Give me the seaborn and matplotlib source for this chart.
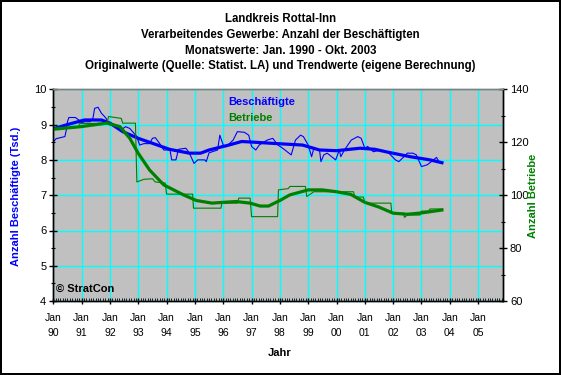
import numpy as np
import pandas as pd
import seaborn as sns
from matplotlib import pyplot as plt
from matplotlib.ticker import MultipleLocator, FixedLocator

# Beschaeftigte (Tsd.), Originalwerte (decimal year, value)
emp_year = [1990.0, 1990.1, 1990.41, 1990.47, 1990.5, 1990.55, 1990.78, 1990.9, 1991.0, 1991.1,
            1991.3, 1991.4, 1991.46, 1991.58, 1991.7, 1991.82, 1991.9, 1992.0, 1992.1, 1992.3,
            1992.4, 1992.55, 1992.7, 1992.8, 1992.95, 1993.05, 1993.2, 1993.4, 1993.5, 1993.6,
            1993.75, 1993.9, 1994.12, 1994.18, 1994.33, 1994.42, 1994.68, 1994.8, 1994.97, 1995.1,
            1995.35, 1995.4, 1995.5, 1995.8, 1995.88, 1996.0, 1996.1, 1996.35, 1996.5, 1996.75,
            1996.9, 1997.0, 1997.15, 1997.27, 1997.55, 1997.75, 1997.93, 1998.1, 1998.4, 1998.55,
            1998.73, 1998.83, 1999.0, 1999.12, 1999.2, 1999.4, 1999.45, 1999.55, 1999.67, 1999.97,
            2000.1, 2000.15, 2000.28, 2000.52, 2000.75, 2000.87, 2001.0, 2001.1, 2001.3, 2001.55,
            2001.85, 2002.08, 2002.2, 2002.38, 2002.5, 2002.7, 2002.82, 2003.0, 2003.2, 2003.35,
            2003.53, 2003.62, 2003.75]
emp_orig = [8.51, 8.6, 8.66, 8.89, 9.08, 9.2, 9.2, 9.13, 9.04, 9.08,
            9.08, 9.18, 9.46, 9.49, 9.32, 9.22, 9.13, 8.99, 9.03, 8.9,
            8.85, 8.94, 8.89, 8.8, 8.66, 8.42, 8.46, 8.46, 8.61, 8.63,
            8.47, 8.28, 8.28, 8.0, 8.0, 8.3, 8.33, 8.2, 7.9, 8.0,
            8.0, 7.95, 8.2, 8.28, 8.7, 8.42, 8.37, 8.56, 8.8, 8.78,
            8.7, 8.38, 8.28, 8.42, 8.56, 8.61, 8.42, 8.33, 8.14, 8.56,
            8.7, 8.66, 8.42, 8.09, 8.33, 8.28, 7.95, 8.14, 8.19, 8.0,
            8.28, 8.09, 8.28, 8.56, 8.66, 8.61, 8.33, 8.38, 8.23, 8.28,
            8.19, 8.0, 7.95, 8.09, 8.19, 8.19, 8.14, 7.81, 7.86, 7.95,
            8.07, 7.95, 7.92]

# Beschaeftigte, Trendwerte
emp_trend_year = [1990.0, 1990.5, 1991.1, 1991.7, 1992.0, 1992.45, 1993.0, 1993.5, 1994.1, 1994.8,
                  1995.2, 1995.5, 1996.2, 1996.65, 1997.1, 1997.7, 1998.35, 1998.8, 1999.4, 2000.0,
                  2000.83, 2001.35, 2001.8, 2002.6, 2003.3, 2003.72]
emp_trend = [8.88, 9.0, 9.13, 9.13, 9.04, 8.8, 8.61, 8.47, 8.3, 8.19,
             8.19, 8.28, 8.42, 8.52, 8.5, 8.47, 8.44, 8.42, 8.28, 8.26,
             8.33, 8.30, 8.22, 8.09, 8.0, 7.92]

# Betriebe, Originalwerte (stepwise)
firm_year = [1990.0, 1990.9, 1990.92, 1991.9, 1991.95, 1992.4, 1992.45, 1992.9, 1992.95, 1993.2,
             1993.5, 1993.6, 1993.95, 1994.0, 1994.92, 1994.95, 1995.92, 1995.95, 1996.5, 1996.55,
             1996.95, 1997.0, 1997.92, 1997.95, 1998.3, 1998.35, 1998.9, 1998.95, 1999.2, 2000.6,
             2000.65, 2000.95, 2001.0, 2001.92, 2001.95, 2002.35, 2002.4, 2002.5, 2002.95, 2003.0,
             2003.25, 2003.3, 2003.75]
firm_orig = [125.3, 125.6, 127.0, 127.2, 129.7, 129.0, 127.2, 127.2, 105.0, 106.0,
             106.2, 105.0, 104.6, 100.4, 100.4, 95.1, 95.1, 97.0, 97.0, 98.9,
             98.9, 91.9, 91.9, 102.0, 102.5, 103.3, 103.3, 99.5, 101.3, 101.3,
             99.3, 99.3, 97.0, 97.0, 93.2, 93.2, 91.6, 92.5, 92.5, 94.0,
             94.0, 94.8, 94.8]

# Betriebe, Trendwerte
firm_trend_year = [1990.0, 1991.0, 1991.6, 1991.9, 1992.35, 1992.7, 1993.0, 1993.4, 1993.9, 1994.6,
                   1995.05, 1995.6, 1996.0, 1996.45, 1996.95, 1997.3, 1997.6, 1998.0, 1998.35, 1999.0,
                   1999.5, 2000.0, 2000.5, 2001.0, 2001.5, 2002.0, 2002.5, 2003.0, 2003.72]
firm_trend = [124.9, 125.9, 126.8, 127.2, 125.9, 121.5, 115.8, 109.5, 103.9, 100.1,
              98.0, 97.0, 97.3, 97.6, 97.0, 95.9, 95.9, 98.0, 100.1, 102.0,
              102.0, 101.3, 100.3, 97.3, 95.5, 93.2, 92.8, 93.3, 94.4]

years = list(range(1990, 2006))
year_labels = ['Jan\n{:02d}'.format(y % 100) for y in years]

blue = '#0000FF'
green = '#008000'

plt.rcParams['font.family'] = ['Liberation Sans', 'DejaVu Sans']
plt.rcParams['font.size'] = 7.5

fig = plt.figure(figsize=(5.61, 3.75), dpi=100)
fig.patch.set_facecolor('white')
fig.patch.set_edgecolor('black')
fig.patch.set_linewidth(1.5)
ax = fig.add_axes([0.095, 0.197, 0.8017, 0.565])
ax2 = ax.twinx()

ax.set_facecolor('#C0C0C0')
ax2.patch.set_visible(False)

emp = pd.DataFrame({'year': emp_year, 'value': emp_orig})
emp_t = pd.DataFrame({'year': emp_trend_year, 'value': emp_trend})
firm = pd.DataFrame({'year': firm_year, 'value': firm_orig})
firm_t = pd.DataFrame({'year': firm_trend_year, 'value': firm_trend})

sns.lineplot(data=emp, x='year', y='value', ax=ax, color=blue, linewidth=0.8, sort=False, estimator=None)
sns.lineplot(data=emp_t, x='year', y='value', ax=ax, color=blue, linewidth=2.3, sort=False, estimator=None)
sns.lineplot(data=firm, x='year', y='value', ax=ax2, color=green, linewidth=0.8, sort=False, estimator=None)
sns.lineplot(data=firm_t, x='year', y='value', ax=ax2, color=green, linewidth=2.3, sort=False, estimator=None)

ax.set_xlim(1990, 2005.88)
ax.set_ylim(4, 10)
ax2.set_ylim(60, 140)

ax.xaxis.set_major_locator(FixedLocator(years))
ax.set_xticklabels(year_labels, linespacing=1.6)
ax.xaxis.set_minor_locator(MultipleLocator(1 / 12))
ax.yaxis.set_major_locator(MultipleLocator(1))
ax.yaxis.set_minor_locator(MultipleLocator(0.5))
ax2.yaxis.set_major_locator(MultipleLocator(20))
ax2.yaxis.set_minor_locator(MultipleLocator(10))

ax.grid(True, which='major', color='#00FFFF', linewidth=1.0)
ax.set_axisbelow(True)

ax.tick_params(axis='x', which='major', direction='inout', length=5, width=1, pad=6, labelsize=7.5)
ax.tick_params(axis='x', which='minor', direction='in', length=2, width=0.6)
ax.tick_params(axis='y', which='major', direction='inout', length=6, width=1, pad=2, labelsize=8)
ax.tick_params(axis='y', which='minor', direction='inout', length=3, width=0.8)
ax2.tick_params(axis='y', which='major', direction='inout', length=6, width=1, pad=2, labelsize=8)
ax2.tick_params(axis='y', which='minor', direction='inout', length=3, width=0.8)

for a in (ax, ax2):
    for s in a.spines.values():
        s.set_color('black')
        s.set_linewidth(1)
    a.spines['top'].set_color('#808080')

ax.set_xlabel('')
ax.set_ylabel('')
ax2.set_ylabel('')
fig.text(280 / 561, 1 - 353 / 375, 'Jahr', ha='center', va='center', fontweight='bold', fontsize=8)
fig.text(16 / 561, 1 - 196 / 375, 'Anzahl Beschäftigte (Tsd.)', rotation=90, ha='center', va='center',
         color=blue, fontweight='bold', fontsize=8)
fig.text(532.5 / 561, 1 - 196 / 375, 'Anzahl Betriebe', rotation=90, ha='center', va='center',
         color=green, fontweight='bold', fontsize=8)

titles = ['Landkreis Rottal-Inn',
          'Verarbeitendes Gewerbe: Anzahl der Beschäftigten',
          'Monatswerte: Jan. 1990 - Okt. 2003',
          'Originalwerte (Quelle: Statist. LA) und Trendwerte (eigene Berechnung)']
for i, t in enumerate(titles):
    fig.text(0.5, 1 - (19 + i * 15.8) / 375, t, ha='center', va='center', fontweight='bold', fontsize=8.3)

ax.text(0.388, 0.94, 'Beschäftigte', transform=ax.transAxes, color=blue, fontweight='bold', fontsize=8, va='center')
ax.text(0.388, 0.865, 'Betriebe', transform=ax.transAxes, color=green, fontweight='bold', fontsize=8, va='center')
ax.text(0.006, 0.06, '© StratCon', transform=ax.transAxes, color='black', fontweight='bold', fontsize=8, va='center')

plt.savefig('out.png', dpi=100, facecolor=fig.get_facecolor(), edgecolor=fig.get_edgecolor())
plt.close()
